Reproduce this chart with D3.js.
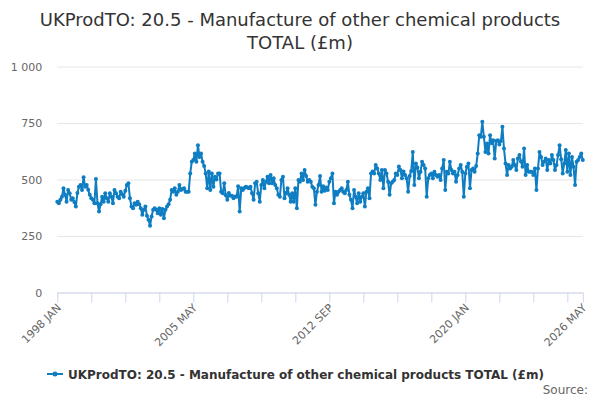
<!DOCTYPE html>
<html><head><meta charset="utf-8">
<script src="https://cdn.jsdelivr.net/npm/d3@7"></script>
<style>
body{margin:0;background:#fff;}
svg{font-family:"DejaVu Sans",Verdana,sans-serif;}
</style></head>
<body>
<svg id="c" width="600" height="400"></svg>
<script>
const titleLines = ["UKProdTO: 20.5 - Manufacture of other chemical products", "TOTAL (£m)"];
const seriesName = "UKProdTO: 20.5 - Manufacture of other chemical products TOTAL (£m)";
const startYear = 1998;
const monthNames = ["JAN","FEB","MAR","APR","MAY","JUN","JUL","AUG","SEP","OCT","NOV","DEC"];
const yTicks = [0, 250, 500, 750, 1000];
const values = [
402,395,410,424,461,432,402,454,439,410,417,400,
380,440,468,476,454,510,468,476,455,432,417,410,
395,502,395,358,390,424,402,439,417,402,439,424,
395,454,439,424,417,446,435,424,450,476,483,417,
380,373,395,388,402,390,373,344,366,380,340,322,
295,336,366,373,366,351,373,344,369,329,366,380,
390,410,454,446,461,432,446,476,454,458,461,446,
446,446,527,579,586,615,579,652,600,615,579,560,
527,461,535,454,527,468,512,500,527,527,446,439,
483,430,410,440,428,428,417,425,424,470,358,461,
454,462,468,465,461,468,439,410,483,490,439,402,
476,498,461,490,512,483,520,483,505,476,461,432,
424,498,512,417,440,461,432,402,439,402,461,373,
498,490,527,498,542,515,490,498,490,468,461,388,
446,476,515,446,470,450,465,454,490,505,527,395,
446,432,446,454,461,446,439,454,490,432,410,373,
454,424,395,439,402,424,439,380,446,461,417,527,
535,527,564,549,527,498,542,461,542,527,490,432,
483,490,498,527,520,557,542,505,535,520,505,446,
516,538,622,476,571,553,505,534,578,564,549,424,
505,520,527,505,534,520,512,520,498,549,586,454,
534,527,578,542,527,534,490,520,549,564,534,424,
527,556,571,461,542,549,534,560,615,696,689,755,
689,622,659,615,696,660,674,593,670,674,655,670,
733,637,571,520,564,549,556,586,564,542,593,608,
580,556,637,520,564,534,534,534,520,549,454,549,
622,600,564,580,593,542,586,571,608,586,542,564,
608,652,590,527,571,630,534,615,520,600,556,476,
578,586,600,615,586
];
const categories = values.map((v,i)=> (startYear + Math.floor(i/12)) + " " + monthNames[i%12]);
const data = values.map((v,i)=>({c:categories[i], v:v, i:i}));

const svg = d3.select("#c");
const margin = {left:57.3, right:600-582.8, top:66.5, bottom:400-292.5};
const W = 600, H = 400;
const x = d3.scaleLinear().domain([0, values.length-1]).range([margin.left, W-margin.right]);
const y = d3.scaleLinear().domain([0, 1000]).range([H-margin.bottom, margin.top]);
const color = "#0f7dc2";

// title
svg.append("text").attr("x",300).attr("y",0).attr("text-anchor","middle")
  .attr("fill","#333").style("font-size","18px")
  .selectAll("tspan").data(titleLines).join("tspan")
  .attr("x",300).attr("y",(d,i)=>26+i*23).text(d=>d);

// grid
const gy = d3.axisLeft(y).tickValues(yTicks).tickSize(-(W-margin.left-margin.right))
  .tickFormat(d=>d3.format(",")(d).replace(/,/g," "));
const gAxis = svg.append("g").attr("transform",`translate(${margin.left},0)`).call(gy);
gAxis.select(".domain").remove();
gAxis.selectAll(".tick line").attr("stroke","#e6e6e6");
gAxis.selectAll(".tick text").attr("x",-15).attr("fill","#666").style("font-size","11px")
  .attr("font-family","DejaVu Sans");

// x axis
const tickIdx = d3.range(0, values.length, 22).concat([values.length-1]);
const labelIdx = [0, 88, 176, 264, values.length-1];
const xa = d3.axisBottom(x).tickValues(tickIdx).tickSize(10)
  .tickFormat(d=> labelIdx.includes(d) ? categories[d] : "");
const xg = svg.append("g").attr("transform",`translate(0,${H-margin.bottom})`).call(xa);
xg.select(".domain").attr("stroke","#ccd6eb").attr("d",`M${margin.left},0.5H${W-margin.right}`);
xg.selectAll(".tick line").attr("stroke","#ccd6eb");
xg.selectAll(".tick text").attr("fill","#666").style("font-size","11px")
  .attr("font-family","DejaVu Sans")
  .attr("text-anchor","end").attr("dy",0).attr("y",0)
  .attr("transform","translate(4,16) rotate(-45)");

// line
const line = d3.line().x(d=>x(d.i)).y(d=>y(d.v));
svg.append("path").datum(data).attr("fill","none").attr("stroke",color)
  .attr("stroke-width",2).attr("stroke-linejoin","round").attr("d",line);
svg.append("g").selectAll("circle").data(data).join("circle")
  .attr("cx",d=>x(d.i)).attr("cy",d=>y(d.v)).attr("r",2).attr("fill",color);

// legend
const lg = svg.append("g").attr("transform","translate(47,374)");
lg.append("line").attr("x1",0).attr("x2",16).attr("y1",0).attr("y2",0).attr("stroke",color).attr("stroke-width",2);
lg.append("circle").attr("cx",8).attr("cy",0).attr("r",2.5).attr("fill",color);
lg.append("text").attr("x",21).attr("y",4.5).attr("fill","#333").style("font-size","12px")
  .style("font-weight","bold").text(seriesName);

svg.append("text").attr("x",588).attr("y",394).attr("text-anchor","end").attr("fill","#666")
  .style("font-size","12px").text("Source:");
</script>
</body></html>
